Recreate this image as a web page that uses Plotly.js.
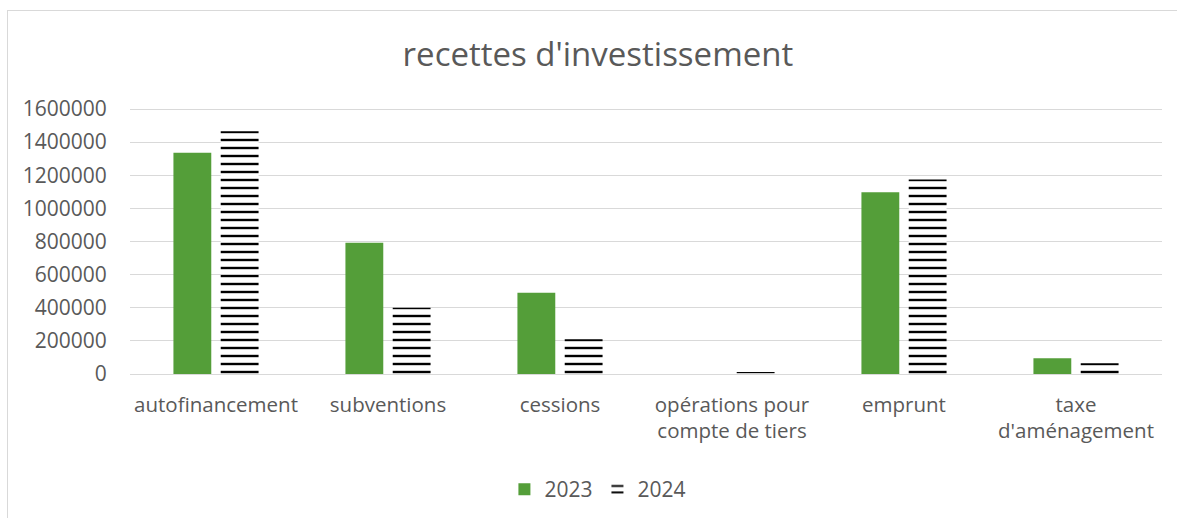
<!DOCTYPE html>
<html><head><meta charset="utf-8">
<script src="https://cdn.plot.ly/plotly-3.0.1.min.js"></script>
<style>
html,body{margin:0;padding:0;background:#fff;overflow:hidden;}
#wrap{position:relative;width:1177px;height:518px;overflow:hidden;}
#chart{width:1177px;height:518px;}
#frame{position:absolute;left:7px;top:10px;width:1200px;height:540px;border:1px solid #D9D9D9;pointer-events:none;}
</style></head>
<body><div id="wrap"><div id="chart"></div><div id="frame"></div></div>
<script>
const categories = ["autofinancement", "subventions", "cessions", "opérations pour<br>compte de tiers", "emprunt", "taxe<br>d'aménagement"];
const values2023 = [1336000, 793000, 491000, 0, 1097000, 95000];
const values2024 = [1465000, 400000, 210000, 12000, 1175000, 65000];
const seriesNames = ["2023", "2024"];
const yTicks = [0, 200000, 400000, 600000, 800000, 1000000, 1200000, 1400000, 1600000];

const font = "Open Sans, Liberation Sans, sans-serif";
const textColor = "#595959";

// plot area is 270 px tall; the 1600000 gridline sits 5 px below its top
const yMax = 1600000 * 270 / 265;

const traces = [
  {type: "bar", name: seriesNames[0], x: categories, y: values2023,
   marker: {color: "#549E39", line: {width: 0}}},
  {type: "bar", name: seriesNames[1], x: categories, y: values2024,
   marker: {color: "#ffffff", line: {width: 0},
     pattern: {shape: "-", fgcolor: "#000000", bgcolor: "#ffffff", size: 8, solidity: 0.3, fillmode: "replace"}}}
];

const layout = {
  width: 1177, height: 518,
  margin: {l: 130, r: 15, t: 104, b: 144, autoexpand: false},
  paper_bgcolor: "#ffffff", plot_bgcolor: "#ffffff",
  font: {family: font, color: textColor, size: 21},
  title: {text: "recettes d'investissement", x: 0.508, xanchor: "center", y: 0.895, yanchor: "middle",
          font: {family: font, size: 33, color: textColor}},
  barmode: "group", bargap: 0.45, bargroupgap: 0.2,
  showlegend: true,
  legend: {orientation: "h", xref: "container", x: 0.508, xanchor: "center", y: -0.352, yanchor: "top",
           tracegroupgap: 0,
           font: {family: font, size: 21, color: textColor}},
  xaxis: {type: "category", showgrid: false, showline: true, linecolor: "#D9D9D9", linewidth: 1,
          ticks: "outside", ticklen: 12, tickcolor: "rgba(0,0,0,0)", tickangle: 0,
          tickfont: {family: font, size: 20.5, color: textColor}},
  yaxis: {range: [0, yMax], tickvals: yTicks, ticktext: yTicks.map(String),
          showgrid: true, gridcolor: "#D9D9D9", gridwidth: 1, zeroline: false,
          ticks: "outside", ticklen: 18, tickcolor: "rgba(0,0,0,0)",
          tickfont: {family: font, size: 21, color: textColor}}
};

Plotly.newPlot("chart", traces, layout, {displayModeBar: false, staticPlot: true});
</script></body></html>
